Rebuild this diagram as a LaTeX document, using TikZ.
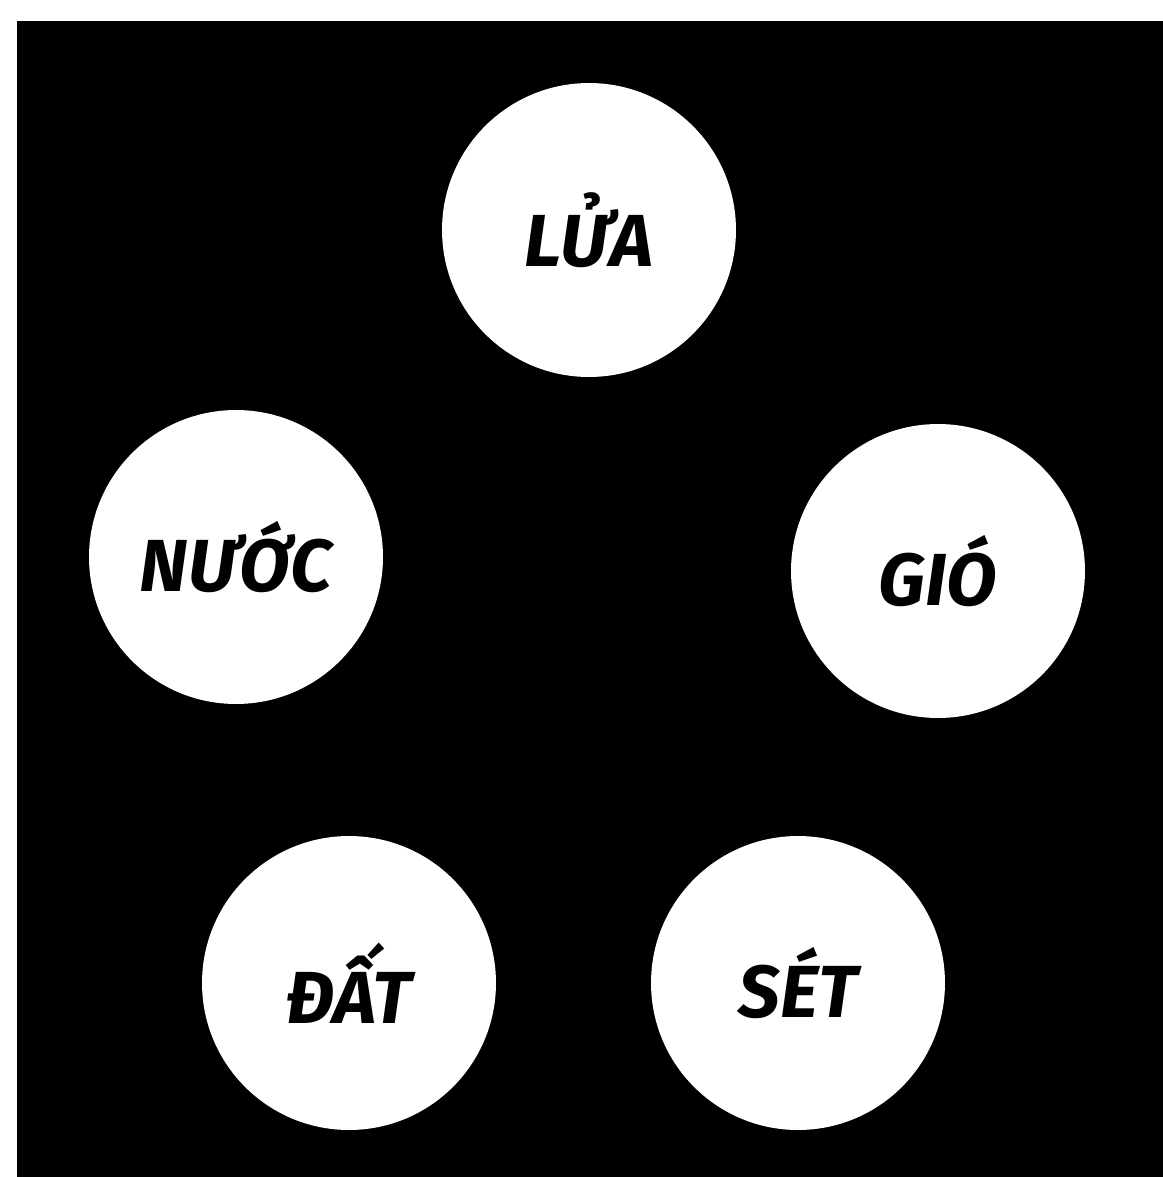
\documentclass[tikz,border=0pt]{standalone}
\usepackage{fontspec}
\setmainfont{Fira Sans}
\tikzset{
  element/.style={circle,fill=white,inner sep=0pt,minimum size=5.88cm,
    font=\fontsize{42}{42}\selectfont\bfseries\itshape},
}
\begin{document}
\begin{tikzpicture}[x=0.02cm,y=-0.02cm]
  \useasboundingbox[fill=white] (0,0) rectangle (1163,1177);
  \fill[black] (17,21) rectangle (1163,1177);
  \node[element] (lua) at (589,230) {LỬA};
  \node[element] (nuoc) at (236,557) {NƯỚC};
  \node[element] (gio) at (938,571) {GIÓ};
  \node[element] (dat) at (349,983) {ĐẤT};
  \node[element] (set) at (798,983) {SÉT};
\end{tikzpicture}
\end{document}
